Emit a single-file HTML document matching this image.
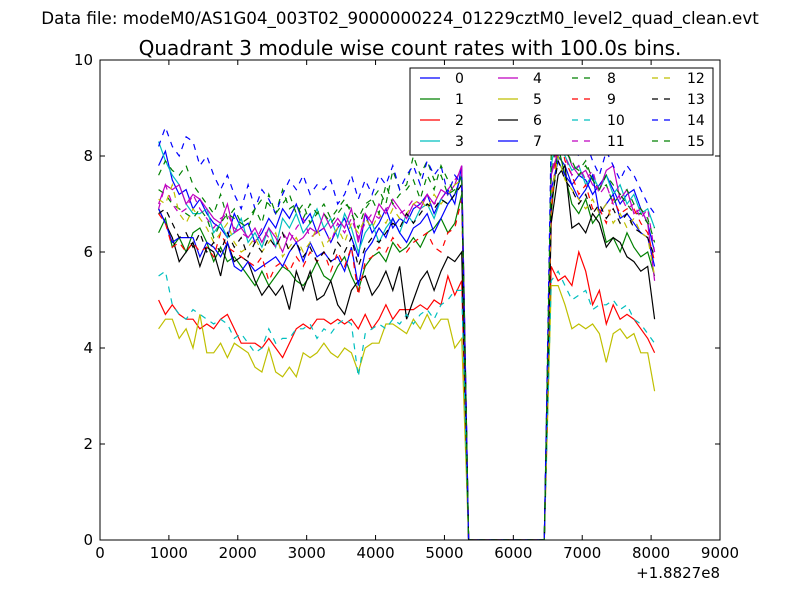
<!DOCTYPE html>
<html><head><meta charset="utf-8"><style>
body{margin:0;background:#fff;}
svg{font-family:"DejaVu Sans","Liberation Sans",sans-serif;}
</style></head><body>
<svg id="chart" width="800" height="600">
<rect width="800" height="600" fill="#fff"/>
<text x="400" y="24" font-size="16.7" text-anchor="middle">Data file: modeM0/AS1G04_003T02_9000000224_01229cztM0_level2_quad_clean.evt</text>
<text x="410" y="55" font-size="20" text-anchor="middle">Quadrant 3 module wise count rates with 100.0s bins.</text>
<g id="plot"></g>
<g id="axes"></g>
<g id="legend"></g>
<text x="720" y="578" font-size="15" text-anchor="end">+1.8827e8</text>
</svg>
<script>
const xTicks=[0,1000,2000,3000,4000,5000,6000,7000,8000,9000];
const yTicks=[0,2,4,6,8,10];
const seriesNames=["0","1","2","3","4","5","6","7","8","9","10","11","12","13","14","15"];
const seg1Start=850, seg2Start=6550, binSize=100, gapZeros=12;
const s0a=[7.8,8.1,7.5,7.2,7.3,6.9,7.1,6.8,6.6,6.5,6.3,6.8,6.5,6.6,6.2,6.4,6.7,6.5,6.9,6.7,7.0,6.6,6.8,6.4,6.5,6.2,6.5,6.7,6.3,5.9,6.8,6.4,6.6,6.9,6.5,6.7,6.6,6.9,7.0,7.2,6.8,7.1,7.3,7.0,7.8];
const s0b=[7.7,8.0,7.8,7.4,7.6,7.5,7.2,7.4,7.6,7.3,7.0,7.2,7.3,6.9,6.6,6.0];
const s1a=[6.4,6.7,6.1,6.3,6.0,6.4,6.5,6.2,5.8,6.1,5.8,5.9,5.7,5.5,5.3,5.6,5.3,5.5,5.7,5.6,5.4,5.3,5.5,5.8,5.5,5.4,5.7,5.9,5.5,5.2,5.7,5.9,6.0,5.8,6.2,6.0,6.1,6.3,6.1,6.4,6.5,6.7,6.4,6.6,7.2];
const s1b=[6.8,8.2,7.6,7.0,6.8,7.1,6.6,6.8,6.2,6.3,6.0,6.4,6.1,5.9,6.0,5.5];
const s2a=[5.0,4.7,4.9,4.7,4.6,4.6,4.4,4.5,4.4,4.6,4.7,4.4,4.1,4.1,4.1,4.0,4.2,4.0,3.8,4.1,4.4,4.5,4.4,4.6,4.6,4.5,4.6,4.5,4.6,4.4,4.7,4.4,4.6,4.9,4.6,4.8,4.8,4.8,4.9,4.8,5.0,4.9,5.5,5.1,5.4];
const s2b=[5.7,5.4,5.5,5.3,6.0,5.6,4.9,5.2,4.5,4.9,4.6,4.7,4.6,4.4,4.2,3.9];
const s3a=[8.3,7.9,7.6,7.4,7.0,6.8,6.8,6.9,6.4,6.6,6.3,6.4,6.7,6.2,6.4,6.1,6.5,6.1,6.7,6.5,6.8,6.4,6.6,6.9,6.5,6.7,6.3,6.8,6.5,6.0,6.4,6.6,6.2,6.5,6.7,6.4,6.8,6.6,6.9,7.0,6.7,7.1,7.0,7.2,7.6];
const s3b=[7.8,8.6,8.0,7.7,7.8,7.4,7.6,7.3,7.6,7.2,7.4,7.0,7.2,6.8,6.9,6.5];
const s4a=[7.0,7.4,7.3,7.4,7.0,7.2,7.1,6.9,6.7,6.6,7.0,6.4,6.5,6.3,6.5,6.2,6.5,6.3,6.0,6.4,6.2,6.3,6.5,6.4,6.8,6.5,6.7,6.5,6.9,6.2,6.8,6.6,7.0,6.8,7.1,6.9,6.7,7.0,6.9,7.2,7.0,7.3,7.2,7.4,7.8];
const s4b=[7.6,8.1,8.2,7.8,7.6,7.7,7.4,7.3,7.7,7.8,7.1,7.3,6.8,6.9,6.6,5.4];
const s5a=[4.4,4.6,4.6,4.2,4.4,4.0,4.7,3.9,3.9,4.1,3.8,4.1,4.0,3.9,3.6,3.5,4.0,3.5,3.4,3.6,3.4,3.9,3.8,3.9,4.1,3.9,3.8,4.0,3.9,3.5,4.0,4.1,4.1,4.5,4.5,4.4,4.3,4.6,4.4,4.7,4.4,4.6,4.6,4.0,4.2];
const s5b=[5.3,5.3,4.9,4.4,4.5,4.4,4.5,4.3,3.7,4.3,4.4,4.2,4.3,3.9,3.9,3.1];
const s6a=[6.9,6.6,6.3,5.8,6.0,6.2,5.7,6.1,6.0,5.5,6.2,5.8,5.9,5.8,5.4,5.1,5.3,5.1,5.3,4.8,5.6,5.2,5.6,5.0,5.1,5.4,4.9,4.7,5.2,5.4,5.5,5.1,5.3,5.6,5.2,5.7,4.6,5.0,5.4,5.6,5.2,5.6,5.9,5.8,6.0];
const s6b=[6.6,7.6,7.8,6.5,6.6,6.4,6.8,6.6,6.1,6.3,6.2,5.9,5.8,5.6,5.7,4.6];
const s7a=[6.9,6.6,6.2,6.3,6.3,6.3,5.9,6.2,6.1,5.9,6.2,5.7,5.6,5.8,5.6,5.7,5.8,5.9,5.7,6.0,6.2,5.8,6.2,5.9,6.0,5.8,5.9,5.6,6.1,5.3,6.0,6.2,6.5,6.3,6.7,6.4,6.2,6.5,6.6,6.8,6.4,6.7,7.0,7.2,7.6];
const s7b=[7.3,7.9,7.6,7.4,7.1,7.3,7.6,6.8,7.0,7.2,6.7,6.8,6.6,6.4,6.3,5.7];
const s8a=[7.3,7.2,7.0,6.9,6.8,6.7,6.9,6.7,6.3,6.6,6.8,6.7,6.6,6.5,6.9,7.1,7.0,6.8,7.3,6.9,7.0,6.7,7.0,6.8,6.8,6.6,6.8,7.0,6.9,6.7,7.0,7.1,7.3,7.0,7.7,7.3,7.4,8.0,7.6,7.9,7.5,7.6,7.2,7.3,7.4];
const s8b=[7.6,8.5,8.1,7.9,7.6,7.8,7.5,7.3,7.4,7.0,7.2,7.0,6.8,6.8,6.6,6.5];
const s9a=[6.8,6.6,6.1,6.2,6.0,6.2,6.0,6.1,5.9,6.4,6.1,6.0,5.9,5.8,5.7,5.9,5.4,5.7,5.8,5.6,5.9,5.7,6.0,5.8,6.0,5.6,6.0,5.7,6.1,5.1,5.8,5.9,6.1,6.0,6.3,6.1,6.0,6.2,6.3,6.4,6.1,6.0,6.4,6.5,7.1];
const s9b=[6.8,8.6,7.9,7.6,7.2,7.4,6.9,6.9,6.6,7.1,6.8,6.9,6.9,6.6,6.4,5.8];
const s10a=[5.5,5.6,4.9,4.7,4.6,4.8,4.7,4.6,4.5,4.6,4.5,4.2,4.3,4.1,3.9,4.0,4.4,4.1,4.2,4.2,4.4,4.4,4.5,4.2,4.4,4.3,4.5,4.6,4.5,3.4,4.3,4.4,4.5,4.4,4.6,4.5,4.7,4.5,4.7,4.8,4.6,4.9,5.0,5.2,5.2];
const s10b=[5.4,5.6,5.3,5.0,5.1,5.2,4.8,4.9,4.9,5.0,4.8,4.9,4.6,4.5,4.3,4.1];
const s11a=[6.9,7.4,7.0,6.8,6.9,7.2,6.9,6.7,6.5,6.7,6.8,6.5,6.4,6.3,6.2,6.5,6.3,6.1,6.4,6.2,6.5,6.7,6.3,6.4,6.5,6.2,6.6,6.4,6.7,6.3,6.6,6.8,6.7,6.9,7.0,6.8,6.9,7.1,7.0,7.2,7.0,7.1,7.3,7.5,7.7];
const s11b=[7.6,8.3,8.0,7.6,7.8,7.5,7.7,7.2,7.4,7.0,7.2,6.9,7.0,6.7,6.9,6.0];
const s12a=[7.1,7.0,7.4,6.8,6.6,6.9,6.7,6.5,6.2,6.4,6.6,6.2,6.0,6.1,6.3,6.0,6.2,6.4,5.9,6.1,6.3,6.0,6.2,6.5,6.1,6.3,6.5,6.2,6.6,6.4,6.7,6.5,6.8,6.6,6.9,6.7,6.8,7.0,7.1,6.9,7.2,7.0,7.2,7.4,7.5];
const s12b=[7.2,8.0,7.5,7.3,7.1,6.9,7.1,6.8,7.0,6.6,6.8,6.5,6.7,6.4,6.3,5.5];
const s13a=[6.8,6.9,6.6,6.3,6.4,6.1,6.4,6.0,6.2,6.0,6.4,6.1,6.3,5.9,6.2,6.0,6.3,6.1,6.4,6.0,6.2,5.9,6.1,5.8,6.0,5.8,6.2,6.0,6.3,5.7,6.1,6.3,6.2,6.4,6.6,6.5,6.8,6.6,6.8,7.0,6.9,7.1,7.0,7.2,7.4];
const s13b=[7.0,7.9,7.5,7.3,7.0,7.2,6.8,7.0,6.7,6.9,6.6,6.8,6.5,6.4,6.3,5.9];
const s14a=[8.2,8.6,8.2,8.0,8.4,8.3,7.8,8.0,7.6,7.3,7.6,7.2,6.9,7.4,6.9,7.3,7.1,6.8,7.2,7.5,7.3,7.6,7.2,7.4,7.3,7.5,7.0,7.2,7.6,7.1,7.5,7.2,7.6,7.4,7.8,7.3,7.6,7.8,7.4,7.9,7.6,7.8,7.2,7.6,7.4];
const s14b=[8.5,9.4,8.7,8.2,8.0,8.3,7.9,7.6,8.1,7.8,7.5,7.8,7.6,7.3,7.0,6.8];
const s15a=[7.6,7.9,7.7,7.6,7.8,7.4,7.2,7.0,6.8,7.2,6.7,6.9,6.6,6.7,6.9,6.6,7.2,6.8,7.0,7.2,6.8,7.0,6.6,6.8,7.0,6.7,6.9,7.1,6.8,6.5,6.9,7.1,6.8,7.4,7.0,7.2,7.3,7.5,7.1,7.6,7.3,7.8,7.5,7.2,7.6];
const s15b=[8.0,8.8,8.3,7.8,7.7,7.9,7.5,7.3,7.6,7.4,7.2,7.3,7.0,6.9,6.7,6.2];

const segA=[s0a,s1a,s2a,s3a,s4a,s5a,s6a,s7a,s8a,s9a,s10a,s11a,s12a,s13a,s14a,s15a];
const segB=[s0b,s1b,s2b,s3b,s4b,s5b,s6b,s7b,s8b,s9b,s10b,s11b,s12b,s13b,s14b,s15b];
const colors=["#0000ff","#008000","#ff0000","#00bfbf","#bf00bf","#bfbf00","#000000"];
const L=100,R=720,T=60,B=540;
const xS=v=>L+(v-0)/9000*(R-L);
const yS=v=>B-(v-0)/10*(B-T);
const NS="http://www.w3.org/2000/svg";
function mk(tag,attrs,parent){const e=document.createElementNS(NS,tag);for(const k in attrs)e.setAttribute(k,attrs[k]);parent.appendChild(e);return e;}
const plot=document.getElementById('plot');
const clip=mk('clipPath',{id:'cp'},plot);mk('rect',{x:L,y:T,width:R-L,height:B-T},clip);
const lines=mk('g',{'clip-path':'url(#cp)'},plot);
for(let s=0;s<16;s++){
  const pts=[];
  segA[s].forEach((v,i)=>pts.push([seg1Start+i*binSize,v]));
  const gs=seg1Start+segA[s].length*binSize;
  for(let i=0;i<gapZeros;i++)pts.push([gs+i*binSize,0]);
  segB[s].forEach((v,i)=>pts.push([seg2Start+i*binSize,v]));
  const p=mk('polyline',{points:pts.map(q=>xS(q[0]).toFixed(1)+','+yS(q[1]).toFixed(1)).join(' '),fill:'none',stroke:colors[s%7],'stroke-width':1.2},lines);
  if(s>=8)p.setAttribute('stroke-dasharray','6,6');
  
  
}
const ax=document.getElementById('axes');
mk('rect',{x:L,y:T,width:R-L,height:B-T,fill:'none',stroke:'#000','stroke-width':1},ax);
xTicks.forEach(t=>{const x=xS(t);
  mk('line',{x1:x,y1:B,x2:x,y2:B-5,stroke:'#000'},ax);
  mk('line',{x1:x,y1:T,x2:x,y2:T+5,stroke:'#000'},ax);
  const tx=mk('text',{x:x,y:B+18,'font-size':15,'text-anchor':'middle'},ax);tx.textContent=t;
  
  
});
yTicks.forEach(t=>{const y=yS(t);
  mk('line',{x1:L,y1:y,x2:L+5,y2:y,stroke:'#000'},ax);
  mk('line',{x1:R,y1:y,x2:R-5,y2:y,stroke:'#000'},ax);
  const tx=mk('text',{x:L-7,y:y+5,'font-size':15,'text-anchor':'end'},ax);tx.textContent=t;
  
  
});
const lg=document.getElementById('legend');
mk('rect',{x:410,y:68,width:303,height:87,fill:'#fff',stroke:'#000','stroke-width':1},lg);
const colX=[420,498,572,652], rowY=[78,99,120,141];
seriesNames.forEach((n,s)=>{const c=Math.floor(s/4),r=s%4;const x=colX[c],y=rowY[r];
  const g=mk('g',{},lg);
  
  
  const l=mk('line',{x1:x,y1:y,x2:x+20,y2:y,stroke:colors[s%7],'stroke-width':1.2},g);
  if(s>=8)l.setAttribute('stroke-dasharray','6,6');
  const t=mk('text',{x:x+35,y:y+5,'font-size':14},g);t.textContent=n;
});
</script>
</body></html>
